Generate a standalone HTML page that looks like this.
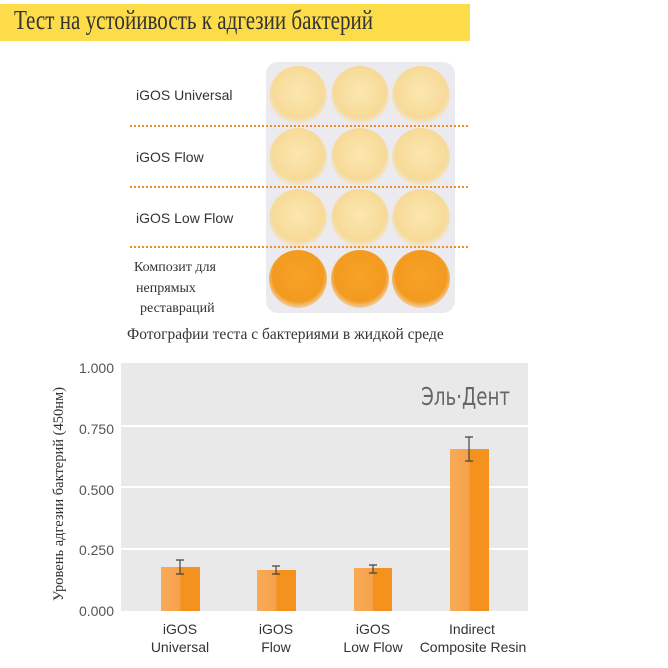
<!DOCTYPE html>
<html><head><meta charset="utf-8"><style>
body{margin:0;width:668px;height:668px;background:#fff;position:relative;overflow:hidden;font-family:"Liberation Sans",sans-serif}
.a{position:absolute}
</style></head><body>
<div class="a" style="left:0;top:4px;width:470px;height:37px;background:#fddc4a"></div>
<div class="a" style="left:14px;top:5px;font:27px 'Liberation Serif',serif;color:#333;transform:scaleX(0.78);transform-origin:0 0;white-space:nowrap">Тест на устойивость к адгезии бактерий</div>
<svg class="a" style="left:0;top:0" width="668" height="668">
<defs>
<radialGradient id="l" cx="50%" cy="45%" r="55%"><stop offset="0" stop-color="#fbe7b0"/><stop offset="0.8" stop-color="#f7da98"/><stop offset="1" stop-color="#efe8dc"/></radialGradient>
<radialGradient id="o" cx="50%" cy="45%" r="55%"><stop offset="0" stop-color="#f6a328"/><stop offset="0.8" stop-color="#f39a1f"/><stop offset="1" stop-color="#f0d2a8"/></radialGradient>
<linearGradient id="b" x1="0" x2="1"><stop offset="0" stop-color="#f8ab57"/><stop offset="0.5" stop-color="#f7a04a"/><stop offset="0.5" stop-color="#f5921d"/><stop offset="1" stop-color="#f5921d"/></linearGradient>
</defs>
<rect x="266" y="62" width="189" height="251" rx="12" fill="#ebebef"/>
<g>
<circle cx="298" cy="95" r="29" fill="url(#l)"/><circle cx="360" cy="95" r="29" fill="url(#l)"/><circle cx="421" cy="95" r="29" fill="url(#l)"/>
<circle cx="298" cy="157" r="29" fill="url(#l)"/><circle cx="360" cy="157" r="29" fill="url(#l)"/><circle cx="421" cy="157" r="29" fill="url(#l)"/>
<circle cx="298" cy="218" r="29" fill="url(#l)"/><circle cx="360" cy="218" r="29" fill="url(#l)"/><circle cx="421" cy="218" r="29" fill="url(#l)"/>
<circle cx="298" cy="279" r="29" fill="url(#o)"/><circle cx="360" cy="279" r="29" fill="url(#o)"/><circle cx="421" cy="279" r="29" fill="url(#o)"/>
</g>
<g stroke="#f08a2a" stroke-width="2" stroke-dasharray="2,2">
<line x1="130" y1="126" x2="470" y2="126"/><line x1="130" y1="187" x2="470" y2="187"/><line x1="130" y1="247" x2="470" y2="247"/>
</g>
<g font-family="Liberation Sans,sans-serif" font-size="14" fill="#333">
<text x="136" y="100">iGOS Universal</text><text x="136" y="162">iGOS Flow</text><text x="136" y="223">iGOS Low Flow</text>
</g>
<g font-family="Liberation Serif,serif" font-size="14" fill="#333">
<text x="134" y="271">Композит для</text><text x="136" y="292">непрямых</text><text x="140" y="312">реставраций</text>
</g>
<text x="127" y="339" font-family="Liberation Serif,serif" font-size="15.5" fill="#333">Фотографии теста с бактериями в жидкой среде</text>
<rect x="121" y="363" width="407" height="248" fill="#e9e9ea"/>
<g stroke="#fff" stroke-width="2"><line x1="121" y1="426" x2="528" y2="426"/><line x1="121" y1="487" x2="528" y2="487"/><line x1="121" y1="549" x2="528" y2="549"/></g>
<g font-size="14" fill="#555" text-anchor="end">
<text x="114" y="373">1.000</text><text x="114" y="434">0.750</text><text x="114" y="495">0.500</text><text x="114" y="555">0.250</text><text x="114" y="616">0.000</text>
</g>
<text transform="translate(63,494) rotate(-90)" text-anchor="middle" font-family="Liberation Serif,serif" font-size="14.5" fill="#333">Уровень адгезии бактерий (450нм)</text>
<text x="0" y="0" text-anchor="end" font-size="22" fill="#666" font-family="DejaVu Sans Condensed,DejaVu Sans,sans-serif" transform="translate(510,405) scale(0.92,1.15)">Эль·Дент</text>
<rect x="161" y="567" width="39" height="44" fill="url(#b)"/>
<rect x="257" y="570" width="39" height="41" fill="url(#b)"/>
<rect x="354" y="568" width="38" height="43" fill="url(#b)"/>
<rect x="450" y="449" width="39" height="162" fill="url(#b)"/>
<g stroke="#444" stroke-width="1.2">
<path d="M180 560V574M176 560H184M176 574H184"/>
<path d="M276 566V574M272 566H280M272 574H280"/>
<path d="M373 565V573M369 565H377M369 573H377"/>
<path d="M469 437V461M465 437H473M465 461H473"/>
</g>
<g font-size="14" fill="#333" text-anchor="middle">
<text x="180" y="634">iGOS</text><text x="180" y="652">Universal</text>
<text x="276" y="634">iGOS</text><text x="276" y="652">Flow</text>
<text x="373" y="634">iGOS</text><text x="373" y="652">Low Flow</text>
<text x="472" y="634">Indirect</text><text x="473" y="652">Composite Resin</text>
</g>
</svg>
</body></html>
